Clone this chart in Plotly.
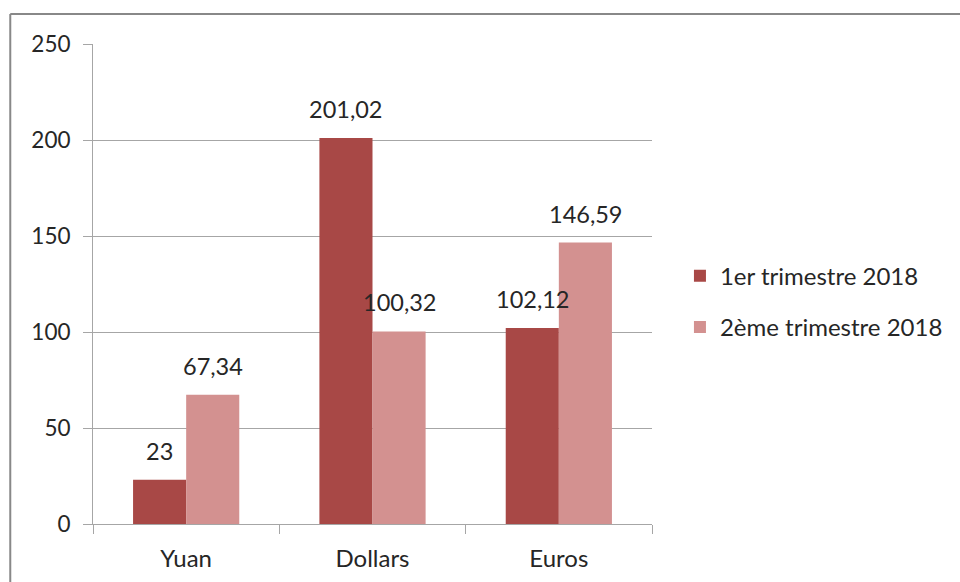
import plotly.graph_objects as go

categories = ["Yuan", "Dollars", "Euros"]
series_names = ["1er trimestre 2018", "2ème trimestre 2018"]
q1 = [23, 201.02, 102.12]
q2 = [67.34, 100.32, 146.59]
y_ticks = [0, 50, 100, 150, 200, 250]
colors = ["#A84846", "#D39190"]


def fr(v):
    return f"{v:g}".replace(".", ",")


FONT = "Lato, 'Open Sans', sans-serif"
TXT = "#262626"
GRID = "#A6A6A6"

fig = go.Figure()
series = [q1, q2]
for i, (name, vals) in enumerate(zip(series_names, series)):
    fig.add_trace(go.Bar(
        x=categories, y=vals, name=name,
        marker=dict(color=colors[i], line=dict(width=0)),
        legendgroup=name,
    ))

BAR_PX = 53.3
for i, vals in enumerate(series):
    shift = -BAR_PX / 2 if i == 0 else BAR_PX / 2
    for c, v in zip(categories, vals):
        fig.add_annotation(x=c, y=v, text=fr(v), showarrow=False,
                           xshift=shift, yshift=13, yanchor="bottom",
                           font=dict(family=FONT, size=23.5, color=TXT))

fig.update_layout(
    width=960, height=582,
    margin=dict(l=93, r=308, t=44, b=58, autoexpand=False),
    paper_bgcolor="white", plot_bgcolor="white",
    barmode="group", bargap=0.43, bargroupgap=0,
    font=dict(family=FONT, size=22, color=TXT),
    legend=dict(x=1.05, y=0.463, xanchor="left", yanchor="middle",
                traceorder="grouped", tracegroupgap=17,
                font=dict(family=FONT, size=24, color=TXT)),
    separators=", ",
    shapes=[
        dict(type="line", xref="paper", yref="paper", x0=-0.148, x1=1.6,
             y0=1.0625, y1=1.0625, line=dict(color="#888888", width=2)),
        dict(type="line", xref="paper", yref="paper", x0=-0.148, x1=-0.148,
             y0=1.0625, y1=-0.2, line=dict(color="#888888", width=2)),
    ],
)
fig.update_xaxes(showline=True, linecolor=GRID, linewidth=1,
                 ticks="outside", ticklen=9, tickcolor=GRID,
                 tickson="boundaries", showgrid=False, automargin=False,
                 tickfont=dict(family=FONT, size=24, color=TXT),
                 ticklabelstandoff=13)
fig.update_yaxes(range=[0, 250], tickvals=y_ticks, showline=True,
                 linecolor=GRID, linewidth=1, ticks="outside", ticklen=9,
                 tickcolor=GRID, showgrid=True, gridcolor=GRID, gridwidth=1,
                 zeroline=False, automargin=False,
                 tickfont=dict(family=FONT, size=22.5, color=TXT),
                 ticklabelstandoff=8)

fig.write_html("out.html")
